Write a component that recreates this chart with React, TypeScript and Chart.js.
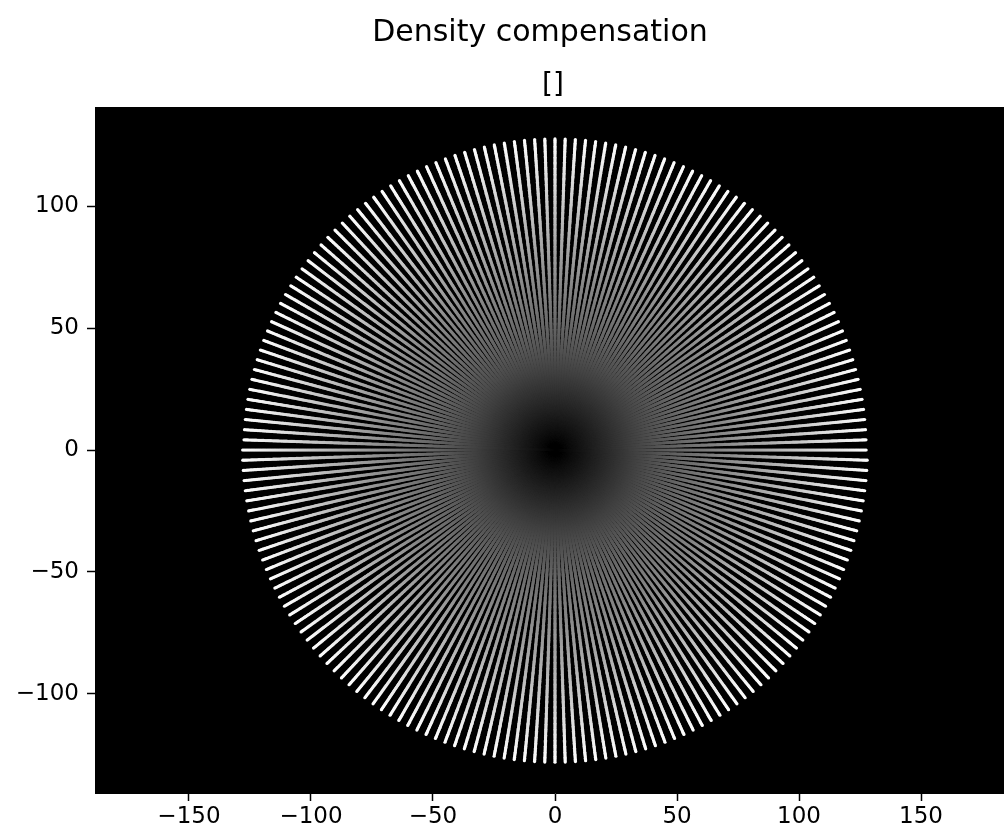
import React, { useEffect, useRef } from "react";
import { Chart, registerables } from "chart.js";

Chart.register(...registerables);

// ---- data ----
const TITLE = "Density compensation";
const SUBTITLE = "[]";
const SPOKE_COUNT = 96; // number of radial spokes (diameters)
const SAMPLES_PER_SPOKE = 512; // readout samples per spoke
const K_MAX = 128; // k-space radius
const X_RANGE = [-188.5, 188.5];
const Y_RANGE = [-140.6, 140.6];
const X_TICKS = [-150, -100, -50, 0, 50, 100, 150];
const Y_TICKS = [-100, -50, 0, 50, 100];

// radial trajectory + ramp density compensation weights
const trajX: number[] = [];
const trajY: number[] = [];
const weights: number[] = [];
for (let s = 0; s < SPOKE_COUNT; s++) {
  const a = (s * Math.PI) / SPOKE_COUNT;
  for (let i = 0; i < SAMPLES_PER_SPOKE; i++) {
    const r = -K_MAX + (i * 2 * K_MAX) / SAMPLES_PER_SPOKE;
    trajX.push(r * Math.cos(a));
    trajY.push(r * Math.sin(a));
    weights.push(Math.abs(r) / K_MAX);
  }
}

const FONT = '"DejaVu Sans", "Liberation Sans", sans-serif';
const fmt = (v: number) => (v < 0 ? "\u2212" + Math.abs(v) : String(v));
const gray = (v: number) => {
  const c = Math.round(Math.min(1, Math.max(0, v)) * 255);
  return `rgb(${c},${c},${c})`;
};

const CANVAS_W = 1080;
const CANVAS_H = 830;

export default function App() {
  const ref = useRef<HTMLCanvasElement | null>(null);
  useEffect(() => {
    if (!ref.current) return;
    const points = trajX.map((x, i) => ({ x, y: trajY[i] }));
    const colors = weights.map(gray);

    const bgPlugin = {
      id: "axesBg",
      beforeDatasetsDraw(chart: any) {
        const { ctx, chartArea } = chart;
        ctx.save();
        ctx.fillStyle = "#000";
        ctx.fillRect(chartArea.left, chartArea.top, chartArea.right - chartArea.left, chartArea.bottom - chartArea.top);
        ctx.restore();
      },
    };
    const titlePlugin = {
      id: "titles",
      afterDraw(chart: any) {
        const { ctx, chartArea } = chart;
        ctx.save();
        ctx.fillStyle = "#000";
        ctx.textAlign = "center";
        ctx.textBaseline = "alphabetic";
        ctx.font = `30px ${FONT}`;
        ctx.fillText(TITLE, 540, 41);
        ctx.font = `28px ${FONT}`;
        ctx.fillText(SUBTITLE, (chartArea.left + chartArea.right) / 2 - 2, 93);
        ctx.restore();
      },
    };

    const tickFont = { family: FONT, size: 23 };
    const chart = new Chart(ref.current, {
      type: "scatter",
      data: {
        datasets: [
          {
            data: points,
            pointRadius: 1.6,
            pointBorderWidth: 0,
            pointBackgroundColor: colors,
            pointBorderColor: colors,
            showLine: false,
          } as any,
        ],
      },
      options: {
        animation: false,
        responsive: false,
        events: [],
        layout: { padding: { left: 0, right: CANVAS_W - 1015, top: 107, bottom: 0 } },
        plugins: {
          legend: { display: false },
          tooltip: { enabled: false },
          title: { display: false },
        },
        scales: {
          x: {
            type: "linear",
            min: X_RANGE[0],
            max: X_RANGE[1],
            afterBuildTicks: (s: any) => {
              s.ticks = X_TICKS.map((v) => ({ value: v }));
            },
            afterFit: (s: any) => {
              s.height = CANVAS_H - 793;
            },
            ticks: { font: tickFont, color: "#000", padding: 2, maxRotation: 0, callback: (v: any) => fmt(Number(v)) },
            grid: { drawOnChartArea: false, drawTicks: true, tickLength: 8, tickColor: "#000", tickWidth: 1.5 },
            border: { display: true, color: "#000", width: 1 },
          },
          y: {
            type: "linear",
            min: Y_RANGE[0],
            max: Y_RANGE[1],
            afterBuildTicks: (s: any) => {
              s.ticks = Y_TICKS.map((v) => ({ value: v }));
            },
            afterFit: (s: any) => {
              s.width = 95;
            },
            ticks: { font: tickFont, color: "#000", padding: 8, callback: (v: any) => fmt(Number(v)) },
            grid: { drawOnChartArea: false, drawTicks: true, tickLength: 8, tickColor: "#000", tickWidth: 1.5 },
            border: { display: true, color: "#000", width: 1 },
          },
        },
      } as any,
      plugins: [bgPlugin, titlePlugin],
    });
    return () => chart.destroy();
  }, []);

  return (
    <div style={{ position: "absolute", left: 0, top: 0, width: 1004, height: 830, overflow: "hidden", background: "#fff" }}>
      <canvas ref={ref} width={CANVAS_W} height={CANVAS_H} style={{ display: "block", width: CANVAS_W, height: CANVAS_H }} />
    </div>
  );
}
